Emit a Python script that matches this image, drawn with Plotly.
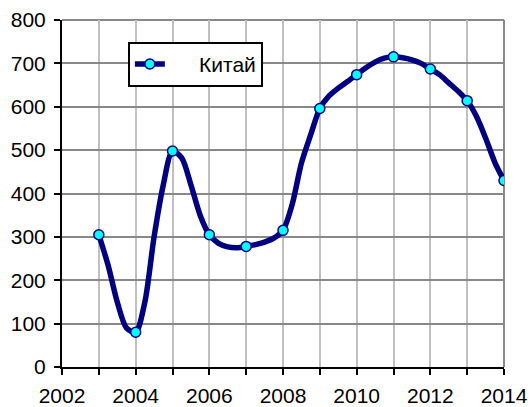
import plotly.graph_objects as go

# yearly values (marked points)
years = [2003, 2004, 2005, 2006, 2007, 2008, 2009, 2010, 2011, 2012, 2013, 2014]
china = [305, 80, 498, 305, 278, 315, 596, 674, 715, 687, 614, 430]

# quarterly path of the curve
q_time = [2003, 2003.25, 2003.5, 2003.75, 2004, 2004.25, 2004.5, 2004.75,
          2005, 2005.25, 2005.5, 2005.75, 2006, 2006.25, 2006.5, 2006.75,
          2007, 2007.25, 2007.5, 2007.75, 2008, 2008.25, 2008.5, 2008.75,
          2009, 2009.25, 2009.5, 2009.75, 2010, 2010.25, 2010.5, 2010.75,
          2011, 2011.25, 2011.5, 2011.75, 2012, 2012.25, 2012.5, 2012.75,
          2013, 2013.25, 2013.5, 2013.75, 2014]
q_china = [305, 235, 150, 90, 80, 150, 300, 420,
           498, 482, 420, 350, 305, 285, 277, 275,
           278, 282, 288, 297, 315, 375, 470, 535,
           596, 625, 643, 658, 674, 690, 703, 712,
           715, 713, 708, 700, 687, 674, 655, 636,
           614, 578, 528, 472, 430]

series_name = "Китай"
x_ticks = list(range(2002, 2015))
x_labels = [str(y) if y % 2 == 0 else "" for y in x_ticks]
y_ticks = list(range(0, 801, 100))

NAVY = "#000080"
CYAN = "#00FFFF"

fig = go.Figure()
fig.add_trace(go.Scatter(
    x=q_time, y=q_china, mode="lines", showlegend=False, hoverinfo="skip",
    line=dict(color=NAVY, width=5.5, shape="spline", smoothing=0.8),
))
fig.add_trace(go.Scatter(
    x=years, y=china, mode="markers", showlegend=False, name=series_name,
    marker=dict(color=CYAN, size=10, line=dict(color=NAVY, width=1.5)),
))
# legend entry (non-breaking spaces widen the gap like the original's long key)
fig.add_trace(go.Scatter(
    x=[None], y=[None], name="\u00a0" * 5 + series_name, mode="lines+markers",
    line=dict(color=NAVY, width=5.5),
    marker=dict(color=CYAN, size=10, line=dict(color=NAVY, width=1.5)),
))

fig.update_layout(
    template="none",
    width=531, height=407,
    margin=dict(l=62, r=27, t=20, b=40, pad=0),
    paper_bgcolor="white", plot_bgcolor="white",
    font=dict(family="Liberation Sans, Arial, sans-serif", size=21, color="black"),
    showlegend=True,
    legend=dict(x=0.149, y=0.937, xanchor="left", yanchor="top",
                bordercolor="black", borderwidth=2, bgcolor="white",
                font=dict(size=21)),
    xaxis=dict(range=[2002, 2014], tickvals=x_ticks, ticktext=x_labels,
               automargin=False,
               showgrid=True, gridcolor="#c0c0c0", gridwidth=2,
               showline=True, linecolor="black", linewidth=2,
               ticks="outside", ticklen=6, tickcolor="black", tickwidth=2,
               ticklabelstandoff=3, zeroline=False),
    yaxis=dict(range=[0, 800], tickvals=y_ticks, automargin=False,
               showgrid=True, gridcolor="#888888", gridwidth=2,
               showline=True, linecolor="black", linewidth=2,
               ticks="outside", ticklen=6, tickcolor="black", tickwidth=2,
               ticklabelstandoff=4, zeroline=False),
    shapes=[
        dict(type="line", xref="paper", yref="paper", x0=0, x1=1, y0=1, y1=1,
             line=dict(color="#888888", width=2), layer="below"),
        dict(type="line", xref="paper", yref="paper", x0=1, x1=1, y0=0, y1=1,
             line=dict(color="#888888", width=2), layer="below"),
    ],
)

fig.write_html(
    "out.html",
    config={"displayModeBar": False},
    post_script="document.body.style.margin='0';document.body.style.overflow='hidden';",
)
